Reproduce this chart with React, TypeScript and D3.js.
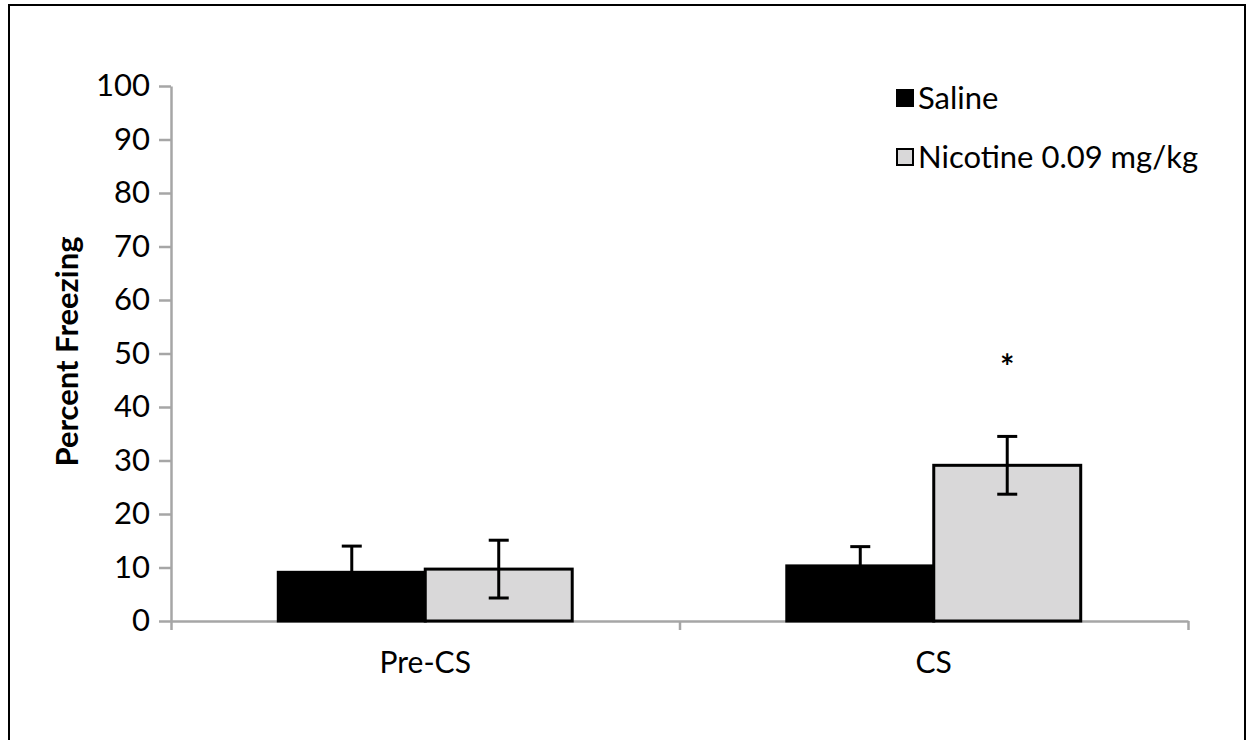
import React, { useEffect, useRef } from 'react';
import * as d3 from 'd3';

// chart values
const categories = ['Pre-CS', 'CS'];
const seriesNames = ['Saline', 'Nicotine 0.09 mg/kg'];
const salineMeans = [9.1, 10.3];
const salineErr = [4.9, 3.6];
const nicotineMeans = [9.7, 29.1];
const nicotineErr = [5.4, 5.4];
const yTicks = [0, 10, 20, 30, 40, 50, 60, 70, 80, 90, 100];
const significant = [false, true];

const FONT = 'Lato, "Open Sans", sans-serif';

export default function App() {
  const ref = useRef<SVGSVGElement | null>(null);

  useEffect(() => {
    const svg = d3.select(ref.current);
    svg.selectAll('*').remove();

    const W = 1248;
    const H = 740;
    const left = 171, right = 1188, top = 86, bottom = 621;

    // outer frame
    svg.append('rect')
      .attr('x', 9).attr('y', 5)
      .attr('width', 1236).attr('height', 780)
      .attr('fill', 'white')
      .attr('stroke', 'black')
      .attr('stroke-width', 2);

    const y = d3.scaleLinear().domain([0, 100]).range([bottom, top]);
    const x = d3.scaleBand().domain(categories).range([left, right]);
    const xSub = d3.scaleBand().domain(seriesNames)
      .range([0, x.bandwidth()])
      .paddingInner(0)
      .paddingOuter(0.73);

    // y axis
    const yAxis = svg.append('g')
      .attr('transform', `translate(${left},0)`)
      .call(d3.axisLeft(y).tickValues(yTicks).tickSize(12).tickSizeOuter(0).tickPadding(9));
    yAxis.select('.domain').attr('stroke', '#a6a6a6').attr('stroke-width', 2.5);
    yAxis.selectAll('.tick line').attr('stroke', '#a6a6a6').attr('stroke-width', 2.5);
    yAxis.selectAll('.tick text')
      .attr('font-family', FONT)
      .attr('font-size', 31)
      .attr('fill', 'black');

    // x axis, ticks at category boundaries
    const xb = d3.scaleLinear().domain([0, categories.length]).range([left, right]);
    const xAxis = svg.append('g')
      .attr('transform', `translate(0,${bottom})`)
      .call(d3.axisBottom(xb).tickValues(d3.range(categories.length + 1)).tickSize(9).tickSizeOuter(0).tickFormat(() => ''));
    xAxis.select('.domain').attr('stroke', '#a6a6a6').attr('stroke-width', 2.5);
    xAxis.selectAll('.tick line').attr('stroke', '#a6a6a6').attr('stroke-width', 2.5);

    // category labels
    svg.append('g').selectAll('text')
      .data(categories)
      .join('text')
      .attr('x', d => (x(d) as number) + x.bandwidth() / 2)
      .attr('y', bottom + 52)
      .attr('text-anchor', 'middle')
      .attr('font-family', FONT)
      .attr('font-size', 30)
      .text(d => d);

    // y title
    svg.append('text')
      .attr('transform', `translate(78,${(top + bottom) / 2 - 2}) rotate(-90)`)
      .attr('text-anchor', 'middle')
      .attr('font-family', FONT)
      .attr('font-weight', 'bold')
      .attr('font-size', 31)
      .text('Percent Freezing');

    const groups = [
      { name: seriesNames[0], means: salineMeans, errs: salineErr, fill: '#000000' },
      { name: seriesNames[1], means: nicotineMeans, errs: nicotineErr, fill: '#d9d8d9' },
    ];

    groups.forEach(g => {
      const bars = svg.append('g');
      categories.forEach((c, i) => {
        const bx = (x(c) as number) + (xSub(g.name) as number);
        const bw = xSub.bandwidth();
        bars.append('rect')
          .attr('x', bx).attr('y', y(g.means[i]))
          .attr('width', bw).attr('height', y(0) - y(g.means[i]))
          .attr('fill', g.fill)
          .attr('stroke', 'black')
          .attr('stroke-width', 3);
      });
    });

    // error bars drawn on top
    groups.forEach(g => {
      const eg = svg.append('g').attr('stroke', 'black').attr('stroke-width', 3);
      categories.forEach((c, i) => {
        const cx = (x(c) as number) + (xSub(g.name) as number) + xSub.bandwidth() / 2;
        const hi = y(g.means[i] + g.errs[i]);
        const lo = y(g.means[i] - g.errs[i]);
        eg.append('line').attr('x1', cx).attr('x2', cx).attr('y1', hi).attr('y2', lo);
        eg.append('line').attr('x1', cx - 10).attr('x2', cx + 10).attr('y1', hi).attr('y2', hi);
        eg.append('line').attr('x1', cx - 10).attr('x2', cx + 10).attr('y1', lo).attr('y2', lo);
        if (g.name === seriesNames[1] && significant[i]) {
          svg.append('text')
            .attr('x', cx)
            .attr('y', hi - 57)
            .attr('text-anchor', 'middle')
            .attr('font-family', FONT)
            .attr('font-weight', 'bold')
            .attr('font-size', 34)
            .text('*');
        }
      });
    });

    // legend
    const legend = svg.append('g').attr('transform', 'translate(897,90)');
    groups.forEach((g, i) => {
      const row = legend.append('g').attr('transform', `translate(0,${i * 59})`);
      row.append('rect')
        .attr('x', 0).attr('y', 0)
        .attr('width', 16).attr('height', 16)
        .attr('fill', g.fill)
        .attr('stroke', 'black')
        .attr('stroke-width', 2);
      row.append('text')
        .attr('x', 21).attr('y', 19)
        .attr('font-family', FONT)
        .attr('font-size', 31)
        .text(g.name);
    });

    svg.attr('width', W).attr('height', H);
  }, []);

  return (
    <svg ref={ref} width={1248} height={740}
      style={{ position: 'absolute', left: 0, top: 0, display: 'block', background: 'white' }} />
  );
}
